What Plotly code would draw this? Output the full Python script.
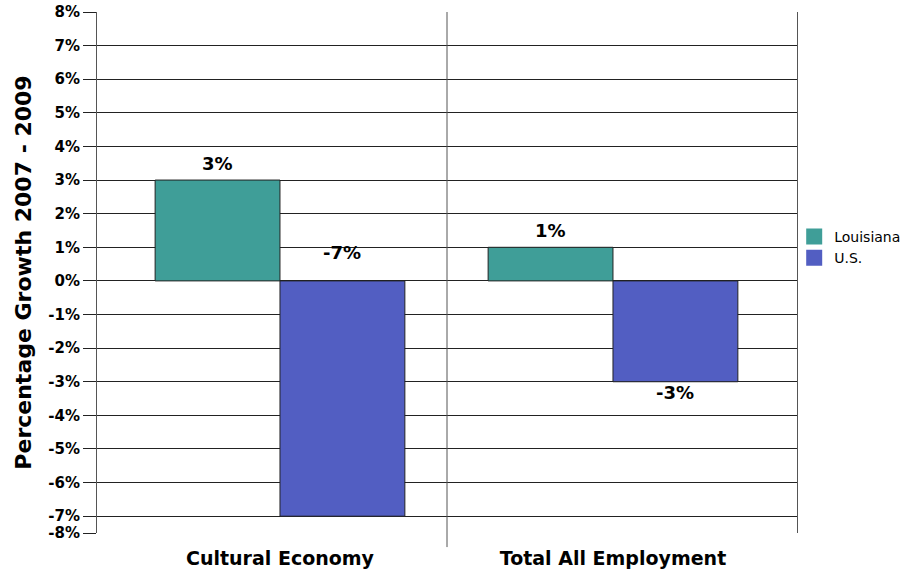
import plotly.graph_objects as go

categories = ["Cultural Economy", "Total All Employment"]
louisiana = [3, 1]
us = [-7, -3]
y_ticks = [8, 7, 6, 5, 4, 3, 2, 1, 0, -1, -2, -3, -4, -5, -6, -7, -7.5]
y_tick_text = ["8%", "7%", "6%", "5%", "4%", "3%", "2%", "1%", "0%", "-1%", "-2%",
               "-3%", "-4%", "-5%", "-6%", "-7%", "-8%"]

FONT = "DejaVu Sans"
teal = "#3F9E98"
blue = "#525EC2"

fig = go.Figure()
fig.add_trace(go.Bar(name="Louisiana", x=categories, y=louisiana, showlegend=False,
                     marker=dict(color=teal, line=dict(color="#222", width=1))))
fig.add_trace(go.Bar(name="U.S.", x=categories, y=us, showlegend=False,
                     marker=dict(color=blue, line=dict(color="#222", width=1))))
# legend entries with large square swatches
for name, col in [("Louisiana", teal), ("U.S.", blue)]:
    fig.add_trace(go.Scatter(name=name, x=[None], y=[None], mode="markers",
                             marker=dict(symbol="square", size=18, color=col)))

# value labels: above positive bars; the deep negative bar gets its label above zero
annotations = []
for i, c in enumerate(categories):
    for series, v in [("la", louisiana[i]), ("us", us[i])]:
        xshift = -62 if series == "la" else 62
        if v >= 0:
            ay, anchor, yshift = v, "bottom", 4
        elif v <= -5:
            ay, anchor, yshift = 0, "bottom", 16
        else:
            ay, anchor, yshift = v, "top", 2
        annotations.append(dict(x=c, y=ay, xref="x", yref="y", text=f"{v}%",
                                showarrow=False, xshift=xshift, yshift=yshift,
                                yanchor=anchor,
                                font=dict(family=FONT, size=18, color="#000", weight="bold")))

fig.update_layout(
    width=913, height=571,
    margin=dict(l=97, r=116, t=12, b=38, autoexpand=False),
    paper_bgcolor="white", plot_bgcolor="white",
    barmode="group", bargap=0.25, bargroupgap=0,
    font=dict(family=FONT, color="#000"),
    showlegend=True,
    legend=dict(x=0.996, y=0.548, xanchor="left", yanchor="middle",
                font=dict(family=FONT, size=14, color="#000"),
                itemwidth=30, tracegroupgap=0, bgcolor="rgba(0,0,0,0)"),
    annotations=annotations,
    shapes=[dict(type="line", xref="paper", yref="paper", x0=0.5, x1=0.5,
                 y0=-0.027, y1=1, line=dict(color="#555", width=1))],
)
fig.update_yaxes(
    range=[-7.5, 8], tickvals=y_ticks, ticktext=y_tick_text,
    showgrid=True, gridcolor="#222", gridwidth=1,
    zeroline=False,
    showline=True, linecolor="#555", linewidth=1, mirror=True,
    ticks="outside", ticklen=13, tickcolor="#222",
    tickfont=dict(family=FONT, size=15, color="#000", weight="bold"),
    title=dict(text="Percentage Growth 2007 - 2009", standoff=10,
               font=dict(family=FONT, size=22, color="#000", weight="bold")),
)
fig.update_xaxes(
    range=[-0.5495, 1.5526],
    showgrid=False, showline=False, ticks="", ticklabelstandoff=12,
    tickfont=dict(family=FONT, size=19, color="#000", weight="bold"),
)

fig.write_html("out.html")
